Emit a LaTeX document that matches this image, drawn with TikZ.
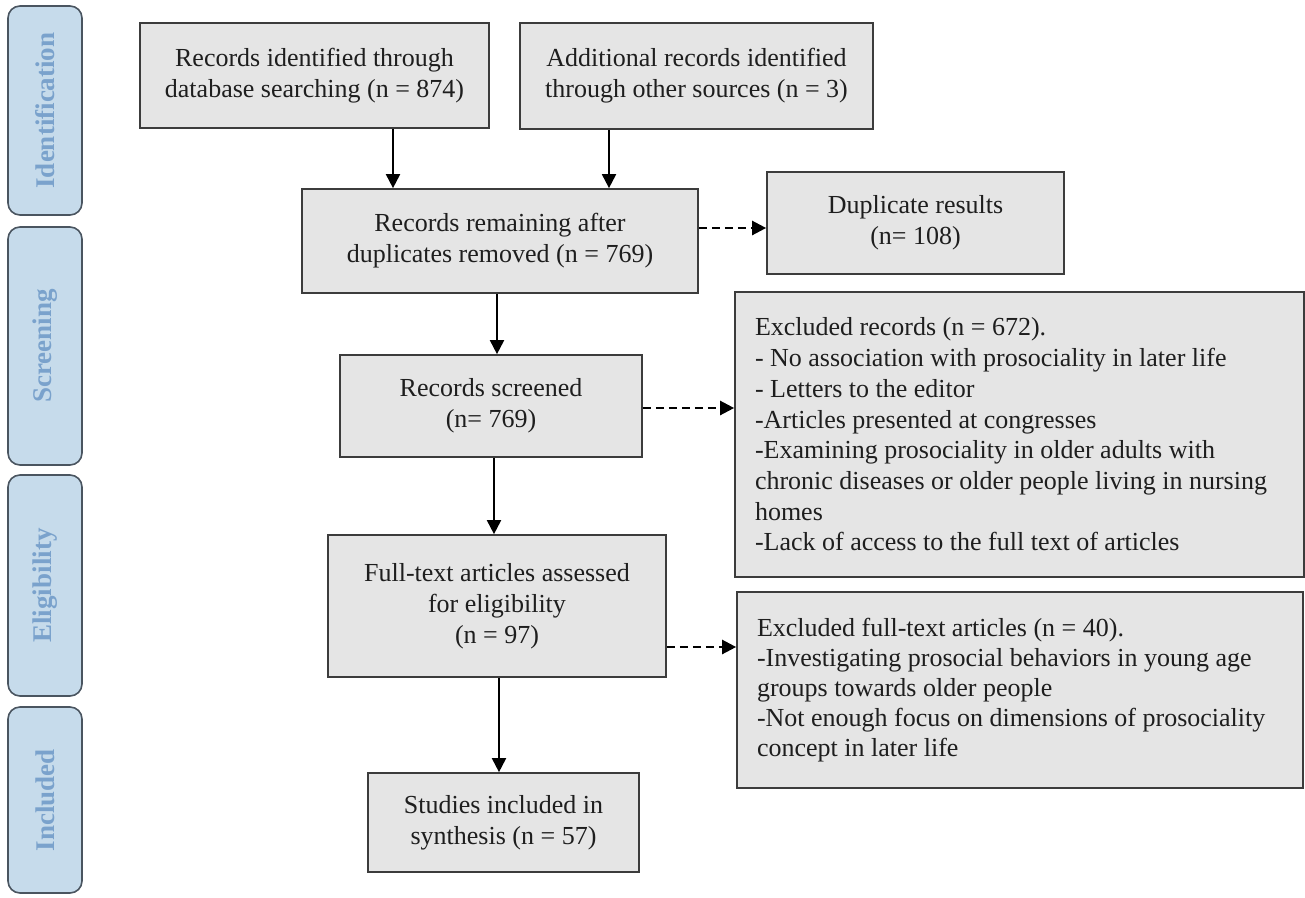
\documentclass[tikz,border=0pt]{standalone}
\usepackage{fontspec}
\setmainfont{Liberation Serif}
\usetikzlibrary{arrows.meta,calc}
\definecolor{boxfill}{HTML}{E5E5E5}
\definecolor{boxline}{HTML}{3C3C3C}
\definecolor{textcol}{HTML}{1E1E1E}
\definecolor{sidefill}{HTML}{C6DBEB}
\definecolor{sideline}{HTML}{4A5560}
\definecolor{sidetext}{HTML}{7AA2CC}
\begin{document}
\begin{tikzpicture}[x=1pt,y=-1pt,
  box/.style={draw=boxline, line width=1.7pt, fill=boxfill, align=center, inner sep=0pt,
    font=\fontsize{26}{31}\selectfont, text=textcol},
  listbox/.style={box, align=flush left, inner xsep=20pt},
  side/.style={draw=sideline, line width=1.6pt, fill=sidefill, rounded corners=12pt, rotate=90,
    inner sep=0pt, font=\fontsize{27}{30}\selectfont\bfseries, text=sidetext, minimum height=74pt},
  arr/.style={line width=1.9pt, draw=black, -{Triangle[length=14pt,width=14pt]}},
  darr/.style={arr, line width=2.4pt, dash pattern=on 8pt off 5pt}]
\useasboundingbox (0,0) rectangle (1305,897);
% sidebars
\node[side, minimum width=209pt] (sid) at (45,110.5) {Identification};
\node[side, minimum width=238pt] (ssc) at (45,346) {Screening};
\node[side, minimum width=221pt] (sel) at (45,585.5) {Eligibility};
\node[side, minimum width=186pt] (sin) at (45,800) {Included};
% boxes
\node[box, minimum width=349pt, minimum height=105pt] (b1) at (314.5,75.5)
  {Records identified through\\database searching (n = 874)};
\node[box, minimum width=353pt, minimum height=106pt] (b2) at (696.5,76)
  {Additional records identified\\through other sources (n = 3)};
\node[box, minimum width=396pt, minimum height=104pt] (b3) at (500,241)
  {Records remaining after\\duplicates removed (n = 769)};
\node[box, minimum width=297pt, minimum height=102pt] (dup) at (915.5,223)
  {Duplicate results\\(n= 108)};
\node[box, minimum width=302pt, minimum height=102pt] (scr) at (491,406)
  {Records screened\\(n= 769)};
\node[box, minimum width=338pt, minimum height=142pt] (ft) at (497,606)
  {Full-text articles assessed\\for eligibility\\(n = 97)};
\node[box, minimum width=271pt, minimum height=99pt] (inc) at (503.5,822.5)
  {Studies included in\\synthesis (n = 57)};
\node[listbox, text width=529pt, minimum height=285pt, font=\fontsize{26}{30.7}\selectfont] (ex1) at (1019.5,434.5)
  {Excluded records (n = 672).\\
   - No association with prosociality in later life\\
   - Letters to the editor\\
   -Articles presented at congresses\\
   -Examining prosociality in older adults with\\
   chronic diseases or older people living in nursing\\
   homes\\
   -Lack of access to the full text of articles};
\node[listbox, text width=526pt, minimum height=196pt, font=\fontsize{26}{30}\selectfont] (ex2) at (1020,690)
  {Excluded full-text articles (n = 40).\\
   -Investigating prosocial behaviors in young age\\
   groups towards older people\\
   -Not enough focus on dimensions of prosociality\\
   concept in later life};
% connectors
\draw[arr] ([xshift=78.5pt]b1.south) -- ([xshift=78.5pt]b1.south |- b3.north);
\draw[arr] ([xshift=-87.5pt]b2.south) -- ([xshift=-87.5pt]b2.south |- b3.north);
\draw[arr] ([xshift=-3pt]b3.south) -- ([xshift=-3pt]b3.south |- scr.north);
\draw[arr] ([xshift=3pt]scr.south) -- ([xshift=3pt]scr.south |- ft.north);
\draw[arr] ([xshift=2pt]ft.south) -- ([xshift=2pt]ft.south |- inc.north);
\draw[darr] ([yshift=13pt]b3.east) -- ([yshift=13pt]b3.east -| dup.west);
\draw[darr] ([yshift=-2pt]scr.east) -- ([yshift=-2pt]scr.east -| ex1.west);
\draw[darr] ([yshift=-41pt]ft.east) -- ([yshift=-41pt]ft.east -| ex2.west);
\end{tikzpicture}
\end{document}
